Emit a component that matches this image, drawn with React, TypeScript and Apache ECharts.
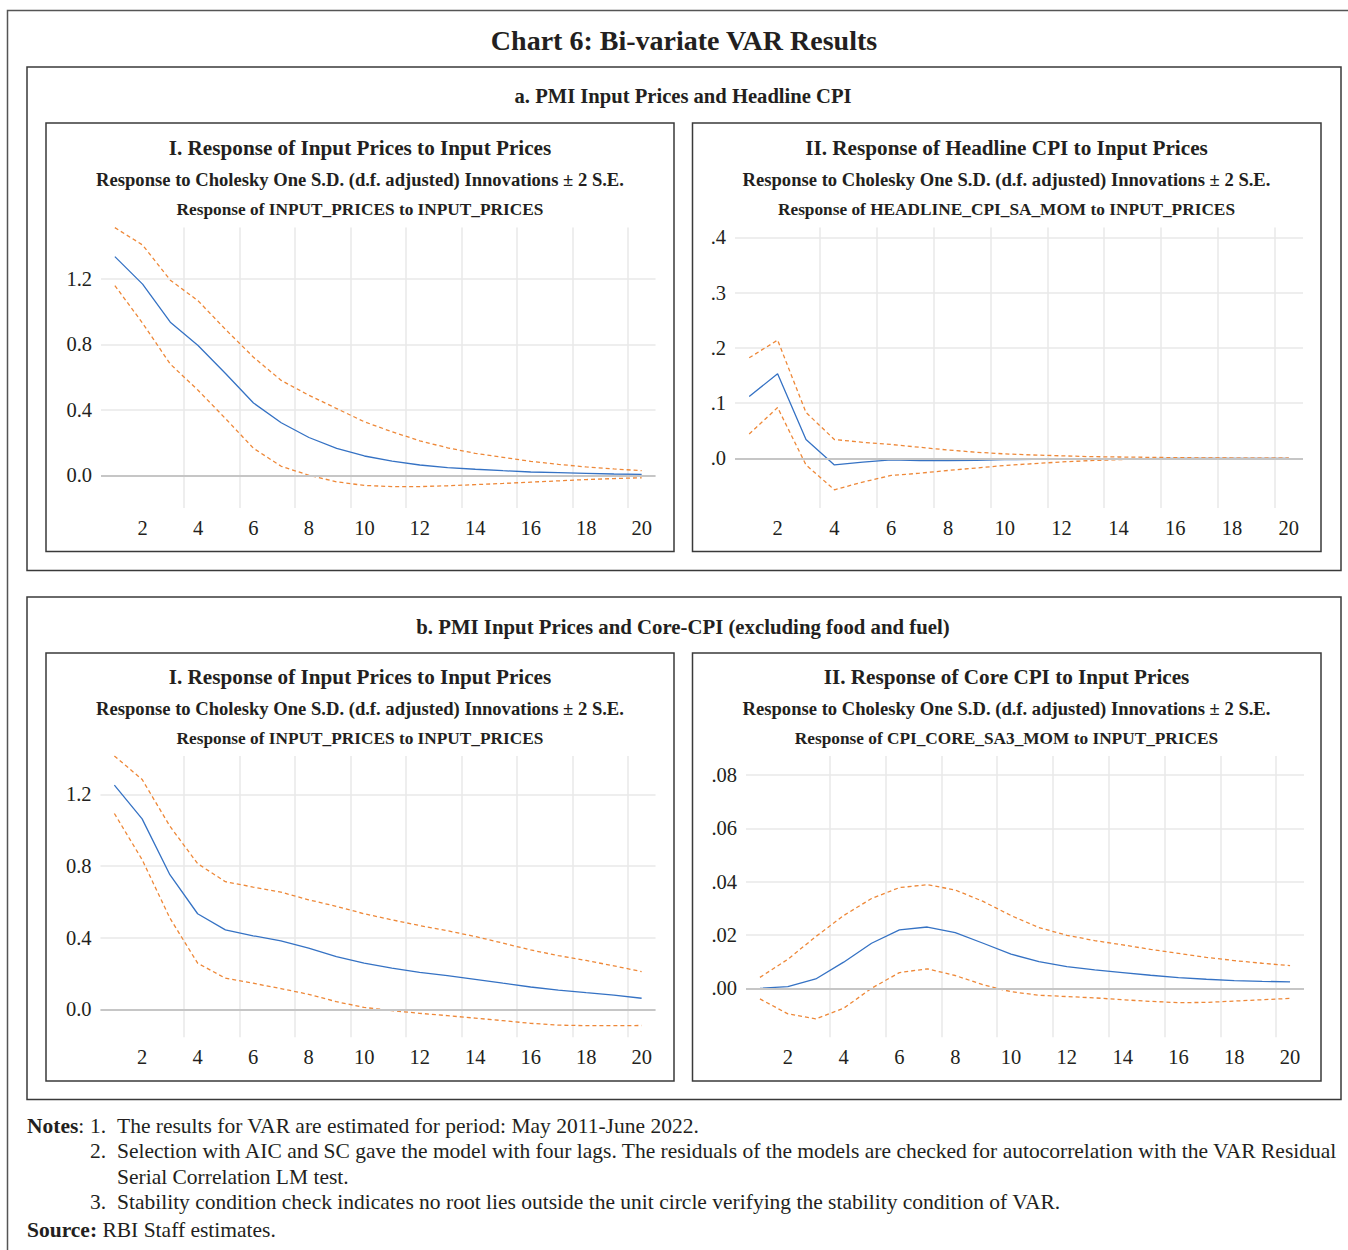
import React, { useEffect, useRef } from 'react';
import * as echarts from 'echarts';

// ---------- Data ----------
const periods = ['1', '2', '3', '4', '5', '6', '7', '8', '9', '10', '11', '12', '13', '14', '15', '16', '17', '18', '19', '20'];

// a.I Response of Input Prices to Input Prices
const aIResponse = [1.337, 1.169, 0.936, 0.794, 0.621, 0.442, 0.321, 0.231, 0.164, 0.118, 0.087, 0.063, 0.047, 0.037, 0.028, 0.020, 0.016, 0.012, 0.008, 0.006];
const aIUpper = [1.514, 1.408, 1.193, 1.067, 0.89, 0.722, 0.580, 0.489, 0.408, 0.327, 0.266, 0.211, 0.168, 0.134, 0.110, 0.085, 0.067, 0.051, 0.039, 0.028];
const aILower = [1.16, 0.93, 0.68, 0.52, 0.345, 0.165, 0.055, 0.0, -0.04, -0.062, -0.069, -0.069, -0.064, -0.057, -0.05, -0.042, -0.034, -0.026, -0.02, -0.015];

// a.II Response of Headline CPI to Input Prices
const aIIResponse = [0.112, 0.153, 0.034, -0.012, -0.007, -0.003, -0.004, -0.004, -0.0035, -0.0025, -0.0018, -0.0015, -0.001, -0.0008, -0.0005, -0.0003, -0.0002, -0.0001, 0, 0];
const aIIUpper = [0.182, 0.214, 0.083, 0.034, 0.029, 0.025, 0.020, 0.015, 0.011, 0.008, 0.006, 0.0045, 0.003, 0.0024, 0.0018, 0.0012, 0.0008, 0.0005, 0.0003, 0.0002];
const aIILower = [0.044, 0.092, -0.012, -0.057, -0.043, -0.031, -0.027, -0.022, -0.0175, -0.013, -0.0097, -0.0066, -0.0042, -0.0024, -0.0012, -0.0006, -0.0003, -0.0002, -0.0001, 0];

// b.I Response of Input Prices to Input Prices
const bIResponse = [1.252, 1.064, 0.752, 0.534, 0.444, 0.411, 0.383, 0.342, 0.295, 0.258, 0.230, 0.207, 0.189, 0.168, 0.146, 0.125, 0.108, 0.093, 0.080, 0.062];
const bIUpper = [1.415, 1.284, 1.023, 0.814, 0.713, 0.683, 0.655, 0.612, 0.575, 0.534, 0.500, 0.468, 0.439, 0.407, 0.370, 0.332, 0.300, 0.273, 0.243, 0.211];
const bILower = [1.094, 0.836, 0.510, 0.258, 0.174, 0.146, 0.116, 0.084, 0.043, 0.011, -0.007, -0.022, -0.035, -0.049, -0.063, -0.078, -0.088, -0.091, -0.091, -0.090];

// b.II Response of Core CPI to Input Prices
const bIIResponse = [0, 0.0006, 0.0035, 0.0098, 0.0169, 0.0219, 0.0230, 0.0209, 0.0169, 0.0128, 0.0100, 0.0081, 0.0069, 0.0059, 0.0049, 0.0040, 0.0034, 0.0029, 0.0026, 0.0024];
const bIIUpper = [0.0041, 0.0109, 0.0194, 0.0273, 0.0337, 0.0378, 0.0389, 0.0369, 0.0326, 0.0273, 0.0228, 0.0199, 0.0179, 0.0163, 0.0146, 0.0131, 0.0116, 0.0104, 0.0094, 0.0085];
const bIILower = [-0.0040, -0.0096, -0.0115, -0.0075, 0.0000, 0.0059, 0.0073, 0.0048, 0.0013, -0.0013, -0.0026, -0.0031, -0.0036, -0.0043, -0.0049, -0.0054, -0.0053, -0.0048, -0.0043, -0.0038];

// Tick values and labels
const yTicksAI = [0, 0.4, 0.8, 1.2];
const yLabelsAI = ['0.0', '0.4', '0.8', '1.2'];
const yTicksAII = [0, 0.1, 0.2, 0.3, 0.4];
const yLabelsAII = ['.0', '.1', '.2', '.3', '.4'];
const yTicksBI = [0, 0.4, 0.8, 1.2];
const yLabelsBI = ['0.0', '0.4', '0.8', '1.2'];
const yTicksBII = [0, 0.02, 0.04, 0.06, 0.08];
const yLabelsBII = ['.00', '.02', '.04', '.06', '.08'];

// Texts
const chartTitle = 'Chart 6: Bi-variate VAR Results';
const sectionTitles = ['a. PMI Input Prices and Headline CPI', 'b. PMI Input Prices and Core-CPI (excluding food and fuel)'];
const panelTitles = [
  'I. Response of Input Prices to Input Prices',
  'II. Response of Headline CPI to Input Prices',
  'I. Response of Input Prices to Input Prices',
  'II. Response of Core CPI to Input Prices',
];
const choleskyLine = 'Response to Cholesky One S.D. (d.f. adjusted) Innovations \u00b1 2 S.E.';
const responseLines = [
  'Response of INPUT_PRICES to INPUT_PRICES',
  'Response of HEADLINE_CPI_SA_MOM to INPUT_PRICES',
  'Response of INPUT_PRICES to INPUT_PRICES',
  'Response of CPI_CORE_SA3_MOM to INPUT_PRICES',
];
const notes = [
  'The results for VAR are estimated for period: May 2011-June 2022.',
  'Selection with AIC and SC gave the model with four lags. The residuals of the models are checked for autocorrelation with the VAR Residual',
  'Serial Correlation LM test.',
  'Stability condition check indicates no root lies outside the unit circle verifying the stability condition of VAR.',
];
const sourceText = 'RBI Staff estimates.';

// ---------- Styling ----------
const FONT = '"Liberation Serif", "Times New Roman", serif';
const TEXT = '#231f20';
const BLUE = '#3572c4';
const ORANGE = '#ee8838';
const GRID = '#e8e8e8';
const ZERO = '#c6c6c6';
const BOX = '#3a3a3a';

interface PanelDef {
  grid: { left: number; top: number; width: number; height: number };
  min: number;
  max: number;
  ticks: number[];
  labels: string[];
  resp: number[];
  up: number[];
  lo: number[];
}

const panels: PanelDef[] = [
  { grid: { left: 101, top: 227.5, width: 554.5, height: 280.5 }, min: -0.2, max: 1.515, ticks: yTicksAI, labels: yLabelsAI, resp: aIResponse, up: aIUpper, lo: aILower },
  { grid: { left: 735, top: 227.5, width: 568, height: 280.5 }, min: -0.09, max: 0.418, ticks: yTicksAII, labels: yLabelsAII, resp: aIIResponse, up: aIIUpper, lo: aIILower },
  { grid: { left: 100.5, top: 756, width: 555, height: 281.3 }, min: -0.156, max: 1.415, ticks: yTicksBI, labels: yLabelsBI, resp: bIResponse, up: bIUpper, lo: bILower },
  { grid: { left: 746, top: 756, width: 558, height: 281.3 }, min: -0.0184, max: 0.0872, ticks: yTicksBII, labels: yLabelsBII, resp: bIIResponse, up: bIIUpper, lo: bIILower },
];

function buildOption() {
  const grids: any[] = [];
  const xAxes: any[] = [];
  const yAxes: any[] = [];
  const series: any[] = [];

  panels.forEach((p, i) => {
    grids.push({ ...p.grid, containLabel: false });
    xAxes.push({
      type: 'category',
      gridIndex: i,
      data: periods,
      boundaryGap: true,
      axisLine: { show: false },
      axisTick: { show: false },
      axisLabel: {
        interval: (idx: number) => idx % 2 === 1,
        fontFamily: FONT,
        fontSize: 20.5,
        color: TEXT,
        margin: 9,
      },
      splitLine: {
        show: true,
        interval: (idx: number) => idx % 2 === 1,
        showMinLine: false,
        showMaxLine: false,
        lineStyle: { color: GRID, width: 1.5 },
      },
    });
    yAxes.push({
      type: 'value',
      gridIndex: i,
      min: p.min,
      max: p.max,
      axisLine: { show: false },
      axisTick: { show: false, customValues: p.ticks },
      axisLabel: {
        customValues: p.ticks,
        fontFamily: FONT,
        fontSize: 20.5,
        color: TEXT,
        margin: 9,
        padding: [0, 0, 5, 0],
        formatter: (v: number) => {
          const k = p.ticks.findIndex((t) => Math.abs(t - v) < 1e-9);
          return k >= 0 ? p.labels[k] : '';
        },
      },
      splitLine: { show: true, lineStyle: { color: GRID, width: 1.5 } },
    });
    series.push({
      type: 'line',
      xAxisIndex: i,
      yAxisIndex: i,
      data: p.resp,
      symbol: 'none',
      silent: true,
      lineStyle: { color: BLUE, width: 1.3 },
      markLine: {
        silent: true,
        symbol: ['none', 'none'],
        label: { show: false },
        lineStyle: { color: ZERO, width: 2, type: 'solid' },
        data: [{ yAxis: 0 }],
      },
    });
    series.push({
      type: 'line',
      xAxisIndex: i,
      yAxisIndex: i,
      data: p.up,
      symbol: 'none',
      silent: true,
      lineStyle: { color: ORANGE, width: 1.3, type: [4, 3] },
    });
    series.push({
      type: 'line',
      xAxisIndex: i,
      yAxisIndex: i,
      data: p.lo,
      symbol: 'none',
      silent: true,
      lineStyle: { color: ORANGE, width: 1.3, type: [4, 3] },
    });
  });

  const rect = (x: number, y: number, w: number, h: number, stroke = BOX, lw = 1.5) => ({
    type: 'rect',
    shape: { x, y, width: w, height: h },
    style: { fill: 'none', stroke, lineWidth: lw },
    silent: true,
  });

  const text = (x: number, y: number, t: string, size: number, weight: string, align = 'center') => ({
    type: 'text',
    x,
    y,
    silent: true,
    style: {
      text: t,
      fontFamily: FONT,
      fontSize: size,
      fontWeight: weight,
      fill: TEXT,
      align,
      textAlign: align,
      verticalAlign: 'middle',
      textVerticalAlign: 'middle',
    },
  });

  const richText = (x: number, y: number, t: string, size: number) => ({
    type: 'text',
    x,
    y,
    silent: true,
    style: {
      text: t,
      fontFamily: FONT,
      fontSize: size,
      fontWeight: 'normal',
      fill: TEXT,
      align: 'left',
      textAlign: 'left',
      verticalAlign: 'middle',
      textVerticalAlign: 'middle',
      rich: {
        b: { fontFamily: FONT, fontSize: size, fontWeight: 'bold', fill: TEXT },
      },
    },
  });

  const panelCentres = [360, 1006.5, 360, 1006.5];
  const panelTitleY = [148, 148, 677, 677];

  const graphics: any[] = [
    rect(7.5, 10.5, 1345, 1250, '#555555', 1.5),
    rect(27, 67, 1314, 503.5),
    rect(27, 597, 1314, 502.5),
    rect(46, 123, 628, 428.5),
    rect(692.5, 123, 628.5, 428.5),
    rect(46, 653, 628, 428),
    rect(692.5, 653, 628.5, 428),
    text(684, 40, chartTitle, 28, 'bold'),
    text(683, 96, sectionTitles[0], 20.6, 'bold'),
    text(683, 626, sectionTitles[1], 20.8, 'bold'),
  ];
  panelTitles.forEach((t, i) => {
    graphics.push(text(panelCentres[i], panelTitleY[i], t, 21.2, 'bold'));
    graphics.push(text(panelCentres[i], panelTitleY[i] + 31, choleskyLine, 18.6, 'bold'));
    graphics.push(text(panelCentres[i], panelTitleY[i] + 61, responseLines[i], 17.3, 'bold'));
  });

  const NS = 21.5;
  graphics.push(richText(27, 1126, '{b|Notes}:', NS));
  graphics.push(text(90, 1126, '1.', NS, 'normal', 'left'));
  graphics.push(text(117, 1126, notes[0], NS, 'normal', 'left'));
  graphics.push(text(90, 1151, '2.', NS, 'normal', 'left'));
  graphics.push(text(117, 1151, notes[1], NS, 'normal', 'left'));
  graphics.push(text(117, 1177, notes[2], NS, 'normal', 'left'));
  graphics.push(text(90, 1202, '3.', NS, 'normal', 'left'));
  graphics.push(text(117, 1202, notes[3], NS, 'normal', 'left'));
  graphics.push(richText(27, 1230, '{b|Source:} ' + sourceText, NS));

  return {
    animation: false,
    backgroundColor: '#ffffff',
    grid: grids,
    xAxis: xAxes,
    yAxis: yAxes,
    series,
    graphic: { elements: graphics },
  };
}

export default function App() {
  const ref = useRef<HTMLDivElement>(null);
  useEffect(() => {
    if (!ref.current) return;
    const chart = echarts.init(ref.current, null, { renderer: 'svg', width: 1348, height: 1250 });
    chart.setOption(buildOption() as any);
    return () => chart.dispose();
  }, []);
  return (
    <div
      ref={ref}
      style={{ position: 'absolute', left: 0, top: 0, width: 1348, height: 1250, background: '#fff' }}
    />
  );
}
